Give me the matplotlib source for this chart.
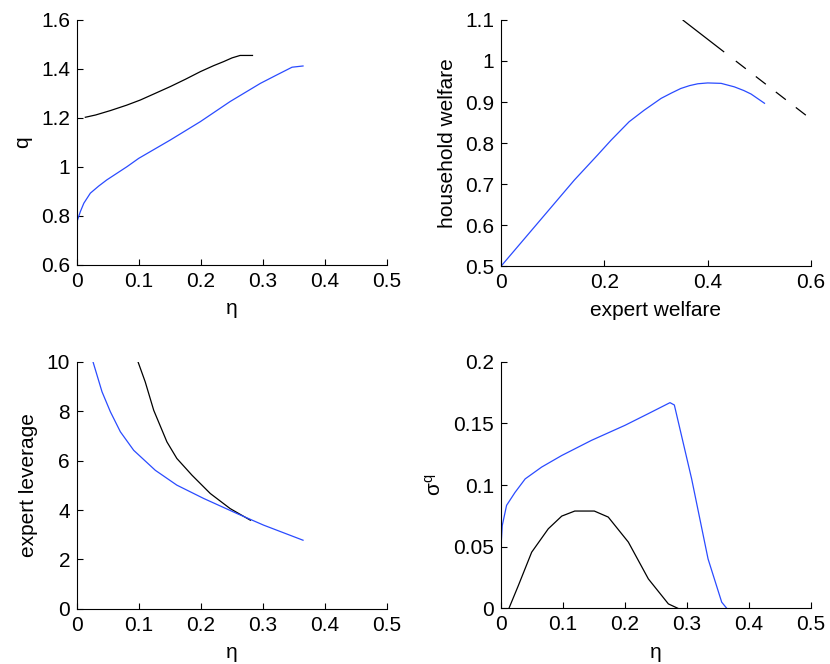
import matplotlib.pyplot as plt

plt.rcParams['font.family'] = ['Liberation Sans', 'DejaVu Sans']
plt.rcParams['font.size'] = 15
plt.rcParams['lines.scale_dashes'] = False

BLUE = '#2a4bff'

# top left: q against eta
q_blue_eta = [0.0, 0.0, 0.0054, 0.011, 0.0215, 0.035, 0.048, 0.0806, 0.0995, 0.1505, 0.199, 0.247, 0.2957, 0.3226, 0.3468, 0.3645]
q_blue = [0.6, 0.777, 0.818, 0.852, 0.893, 0.922, 0.947, 1.001, 1.035, 1.110, 1.185, 1.267, 1.341, 1.376, 1.407, 1.412]
q_black_eta = [0.0134, 0.03, 0.0538, 0.08, 0.102, 0.125, 0.1505, 0.175, 0.199, 0.22, 0.2366, 0.25, 0.263, 0.283]
q_black = [1.2027, 1.212, 1.230, 1.252, 1.273, 1.299, 1.328, 1.358, 1.389, 1.413, 1.430, 1.445, 1.455, 1.455]

# top right: household vs expert welfare
w_blue_x = [0.0, 0.142, 0.187, 0.213, 0.248, 0.277, 0.31, 0.33, 0.348, 0.365, 0.381, 0.40, 0.426, 0.4516, 0.47, 0.484, 0.51]
w_blue_y = [0.5, 0.710, 0.771, 0.807, 0.852, 0.880, 0.909, 0.922, 0.933, 0.940, 0.9445, 0.9465, 0.9455, 0.937, 0.928, 0.9195, 0.897]
w_black_x = [0.3516, 0.590]
w_black_y = [1.1, 0.868]

# bottom left: expert leverage
lev_blue_eta = [0.0258, 0.0403, 0.0538, 0.0699, 0.0914, 0.1263, 0.161, 0.2043, 0.258, 0.301, 0.3645]
lev_blue = [10.0, 8.79, 7.98, 7.17, 6.42, 5.61, 5.01, 4.47, 3.86, 3.39, 2.78]
lev_black_eta = [0.0984, 0.110, 0.1237, 0.145, 0.161, 0.1855, 0.215, 0.247, 0.2796]
lev_black = [10.0, 9.19, 8.04, 6.76, 6.09, 5.41, 4.67, 4.06, 3.59]

# bottom right: sigma^q
sq_blue_eta = [0.0, 0.0, 0.002, 0.009, 0.0226, 0.039, 0.0656, 0.098, 0.146, 0.2, 0.2377, 0.2726, 0.2796, 0.3075, 0.334, 0.356, 0.364]
sq_blue = [0.192, 0.0496, 0.067, 0.0835, 0.094, 0.105, 0.1146, 0.124, 0.1363, 0.1485, 0.158, 0.1669, 0.165, 0.105, 0.040, 0.0049, 0.0]
sq_black_eta = [0.0129, 0.028, 0.0495, 0.0763, 0.098, 0.119, 0.1505, 0.173, 0.2054, 0.2377, 0.27, 0.285]
sq_black = [0.0, 0.0184, 0.0455, 0.0645, 0.0748, 0.0789, 0.0789, 0.074, 0.0537, 0.0238, 0.0035, 0.0]

fig = plt.figure(figsize=(8.3, 6.64), dpi=100)
ax1 = fig.add_axes([0.0928, 0.601, 0.3735, 0.369])
ax2 = fig.add_axes([0.6036, 0.599, 0.3735, 0.371])
ax3 = fig.add_axes([0.0928, 0.083, 0.3735, 0.372])
ax4 = fig.add_axes([0.6036, 0.084, 0.3735, 0.371])


def matlab_style(ax):
    for s in ['top', 'right']:
        ax.spines[s].set_visible(False)
    for s in ['left', 'bottom']:
        ax.spines[s].set_linewidth(0.8)
    ax.tick_params(direction='in', length=4, width=0.8, pad=5)


ax1.plot(q_black_eta, q_black, color='black', lw=0.9)
ax1.plot(q_blue_eta, q_blue, color=BLUE, lw=0.9)
ax1.set_xlim(0, 0.5)
ax1.set_ylim(0.6, 1.6)
ax1.set_xticks([0, 0.1, 0.2, 0.3, 0.4, 0.5], ['0', '0.1', '0.2', '0.3', '0.4', '0.5'])
ax1.set_yticks([0.6, 0.8, 1.0, 1.2, 1.4, 1.6], ['0.6', '0.8', '1', '1.2', '1.4', '1.6'])
ax1.set_xlabel('η', labelpad=6)
ax1.set_ylabel('q', labelpad=6)
matlab_style(ax1)

ax2.plot(w_black_x, w_black_y, color='black', lw=0.9,
         dashes=[37.8, 10.6, 9.1, 9.1, 9.1, 9.1, 9.1, 9.1, 9.5, 50])
ax2.plot(w_blue_x, w_blue_y, color=BLUE, lw=0.9)
ax2.set_xlim(0, 0.6)
ax2.set_ylim(0.5, 1.1)
ax2.set_xticks([0, 0.2, 0.4, 0.6], ['0', '0.2', '0.4', '0.6'])
ax2.set_yticks([0.5, 0.6, 0.7, 0.8, 0.9, 1.0, 1.1], ['0.5', '0.6', '0.7', '0.8', '0.9', '1', '1.1'])
ax2.set_xlabel('expert welfare', labelpad=6)
ax2.set_ylabel('household welfare', labelpad=6)
matlab_style(ax2)

ax3.plot(lev_black_eta, lev_black, color='black', lw=0.9)
ax3.plot(lev_blue_eta, lev_blue, color=BLUE, lw=0.9)
ax3.set_xlim(0, 0.5)
ax3.set_ylim(0, 10)
ax3.set_xticks([0, 0.1, 0.2, 0.3, 0.4, 0.5], ['0', '0.1', '0.2', '0.3', '0.4', '0.5'])
ax3.set_yticks([0, 2, 4, 6, 8, 10])
ax3.set_xlabel('η', labelpad=6)
ax3.set_ylabel('expert leverage', labelpad=6)
matlab_style(ax3)

ax4.plot(sq_black_eta, sq_black, color='black', lw=0.9)
ax4.plot(sq_blue_eta, sq_blue, color=BLUE, lw=0.9)
ax4.set_xlim(0, 0.5)
ax4.set_ylim(0, 0.2)
ax4.set_xticks([0, 0.1, 0.2, 0.3, 0.4, 0.5], ['0', '0.1', '0.2', '0.3', '0.4', '0.5'])
ax4.set_yticks([0, 0.05, 0.1, 0.15, 0.2], ['0', '0.05', '0.1', '0.15', '0.2'])
ax4.set_xlabel('η', labelpad=6)
ax4.set_ylabel(r'$\mathregular{\sigma^q}$', labelpad=6)
matlab_style(ax4)

fig.savefig('out.png', dpi=100)
